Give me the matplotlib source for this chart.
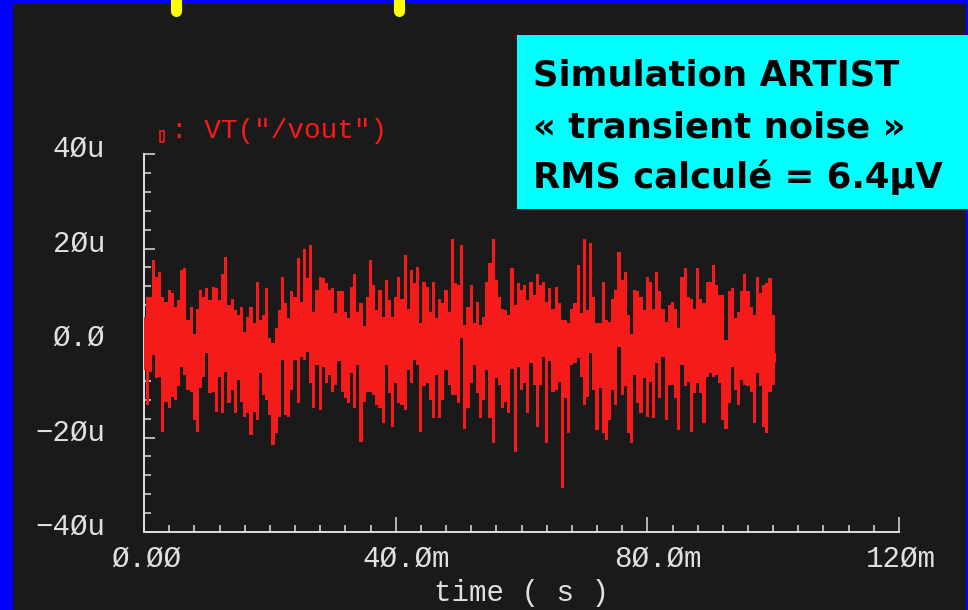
import numpy as np
import matplotlib
matplotlib.use("Agg")
import matplotlib.pyplot as plt
from matplotlib.ticker import MultipleLocator
from matplotlib.transforms import ScaledTranslation
from matplotlib.patches import Rectangle
from matplotlib.lines import Line2D

# transient noise on /vout, read off the plot as upper / lower envelope (uV)
# one sample every 0.5 ms from 0 to 100.5 ms
SAMPLE_MS = 0.5

vout_hi = [
    5.5, 9.8, 9.8, 17.6, 14.0, 15.1, 9.8, 8.7, 11.2, 10.5,
    7.7, 9.1, 15.4, 15.8, 4.9, 7.7, 2.0, 7.3, 11.2, 9.8,
    11.6, 9.1, 11.9, 11.6, 9.1, 14.7, 18.3, 8.0, 9.4, 7.0,
    5.9, 7.7, 2.4, 5.6, 7.7, 4.2, 13.0, 4.9, 5.9, 11.6,
    1.0, -0.1, 3.1, 7.0, 14.0, 8.4, 5.2, 10.9, 9.8, 17.9,
    8.7, 20.0, 13.7, 20.7, 6.6, 11.2, 14.0, 13.7, 12.6, 11.2,
    11.6, 6.3, 10.9, 10.9, 6.6, 5.2, 11.9, 14.7, 6.6, 8.4,
    3.5, 9.8, 17.6, 12.3, 7.0, 11.2, 5.6, 13.3, 9.1, 5.6, 9.8,
    14.0, 9.4, 18.6, 7.3, 15.4, 12.6, 16.1, 4.2, 13.0, 11.9,
    6.6, 13.0, 5.2, 9.4, 8.4, 11.2, 6.6, 22.1, 12.6, 12.3,
    20.7, 3.8, 7.7, 12.3, 4.2, 8.7, 3.8, 5.6, 13.0, 16.9,
    22.1, 13.3, 9.8, 7.3, 7.0, 5.9, 15.8, 8.0, 12.6, 11.2,
    12.3, 9.1, 13.0, 10.2, 14.7, 12.3, 13.0, 8.7, 11.6, 7.3,
    11.9, 8.4, 4.9, 4.9, 4.2, 7.3, 8.4, 16.5, 6.3, 22.1,
    7.0, 21.1, 9.8, 4.2, 4.2, 13.0, 4.9, 4.5, 9.4, 11.2,
    19.3, 13.3, 15.1, 5.9, 2.0, 11.2, 10.9, 9.8, 7.0, 14.0, 13.0,
    7.3, 15.1, 10.9, 7.3, 4.5, 8.0, 8.7, 7.3, 3.1, 14.0,
    15.8, 9.8, 9.4, 7.3, 15.8, 9.4, 8.4, 13.0, 13.0, 16.5,
    12.3, 10.2, 10.2, 0.6, 10.9, 11.6, 5.2, 6.6, 10.9, 14.7,
    10.9, 7.7, 5.9, 14.0, 10.5, 12.3, 12.6, 13.7, 5.9, -2.2,
]

vout_lo = [
    -5.7, -13.1, -6.1, -2.5, -7.5, -7.1, -18.8, -12.4, -13.8, -11.4,
    -12.1, -9.2, -5.0, -6.8, -9.9, -10.3, -16.3, -18.8, -9.6, -7.1,
    -2.2, -10.6, -10.3, -14.5, -7.1, -14.9, -6.1, -12.8, -9.9, -14.9,
    -7.8, -12.4, -15.6, -14.9, -19.5, -14.5, -16.3, -6.4, -11.0, -12.1,
    -15.2, -21.6, -19.1, -15.6, -3.6, -15.2, -15.6, -9.9, -3.6, -12.8,
    -2.9, -3.6, -1.8, -8.5, -13.8, -4.7, -14.2, -5.0, -8.5, -6.8,
    -10.3, -8.9, -3.9, -10.3, -11.7, -12.8, -6.4, -13.8, -4.7, -20.9,
    -12.4, -10.3, -10.3, -11.0, -13.1, -13.8, -17.0, -4.7, -10.6, -17.7, -8.5,
    -12.8, -13.1, -14.2, -5.7, -8.5, -3.6, -4.7, -18.8, -9.2, -8.5,
    -12.1, -15.9, -6.8, -15.9, -12.1, -5.7, -8.9, -11.0, -11.0, -12.8,
    1.0, -18.1, -13.8, -8.5, -4.7, -10.6, -15.9, -12.1, -5.7, -15.9,
    -21.2, -7.5, -8.9, -13.8, -12.4, -14.9, -5.4, -23.0, -5.0, -9.9,
    -8.5, -14.9, -4.3, -8.9, -17.7, -8.9, -2.9, -21.2, -3.9, -10.3,
    -9.9, -8.2, -30.7, -11.7, -19.1, -4.7, -4.3, -3.2, -7.1, -13.1,
    -11.4, -2.2, -9.9, -18.4, -9.6, -19.1, -20.5, -16.3, -9.9, -13.1,
    -0.8, -11.0, -9.2, -19.1, -21.2, -6.8, -12.8, -14.9, -7.5, -15.6, -8.2,
    -15.9, -4.3, -11.7, -2.9, -16.3, -8.9, -8.9, -11.7, -18.4, -4.7,
    -9.2, -8.2, -18.8, -10.6, -8.5, -10.6, -17.0, -7.1, -6.4, -7.1,
    -6.8, -8.5, -16.3, -18.1, -12.8, -5.0, -9.9, -13.1, -7.8, -8.9,
    -9.2, -10.3, -17.0, -6.4, -9.2, -17.7, -19.1, -10.3, -8.9, -4.3,
]

x_ticks = [0, 40, 80, 120]
x_labels = ["Ø.ØØ", "4Ø.Øm", "8Ø.Øm", "12Øm"]
y_ticks = [-40, -20, 0, 20, 40]
y_labels = ["−4Øu", "−2Øu", "Ø.Ø", "2Øu", "4Øu"]

BG = "#1a1a1a"
RED = "#f51b1b"
AXC = "#e0e0e0"
MONO = ["Liberation Mono", "DejaVu Sans Mono"]

t_ms = np.arange(len(vout_hi)) * SAMPLE_MS

W, H = 968, 610
fig = plt.figure(figsize=(W / 100, H / 100), dpi=100, facecolor=BG)
ax = fig.add_axes([144 / W, 1 - 532 / H, 755 / W, 378 / H])
ax.set_facecolor(BG)

ax.fill_between(t_ms, vout_lo, vout_hi, step="mid", color=RED, lw=0, zorder=3)

ax.set_xlim(0, 120)
ax.set_ylim(-40, 40)
for s in ["top", "right"]:
    ax.spines[s].set_visible(False)
for s in ["left", "bottom"]:
    ax.spines[s].set_color(AXC)
    ax.spines[s].set_linewidth(1.4)

ax.set_xticks(x_ticks, x_labels)
ax.set_yticks(y_ticks, y_labels)
ax.xaxis.set_minor_locator(MultipleLocator(4))
ax.yaxis.set_minor_locator(MultipleLocator(4))
ax.tick_params(axis="x", which="major", direction="in", length=11, width=1.1,
               colors=AXC, labelsize=21, pad=9)
ax.tick_params(axis="y", which="major", direction="in", length=8, width=1.1,
               colors=AXC, labelsize=21, pad=28)
ax.tick_params(which="minor", direction="in", length=5, width=1.1, colors=AXC)

for lab in ax.get_xticklabels():
    lab.set_family(MONO)
    lab.set_horizontalalignment("left")
    lab.set_transform(lab.get_transform() + ScaledTranslation(-0.33, 0, fig.dpi_scale_trans))
for lab in ax.get_yticklabels():
    lab.set_family(MONO)
    lab.set_transform(lab.get_transform() + ScaledTranslation(0, 0.08, fig.dpi_scale_trans))

ax.set_xlabel("time ( s )", family=MONO, fontsize=21, color=AXC, labelpad=5)

# trace legend
fig.patches.append(Rectangle((159.5 / W, 1 - 142 / H), 4 / W, 11 / H, fill=False,
                             edgecolor=RED, lw=1.2, transform=fig.transFigure))
fig.text(171 / W, 1 - 131 / H, ': VT("/vout")', family=MONO, fontsize=20,
         color=RED, va="center", ha="left")

# slide frame: blue border and yellow tabs
for r in [(0, 0, 13 / W, 1), (0, 1 - 4 / H, 1, 4 / H), (1 - 2 / W, 0, 2 / W, 1)]:
    fig.patches.append(Rectangle(r[:2], r[2], r[3], color="#0000ff", lw=0,
                                 transform=fig.transFigure, zorder=4))
for xp in [175.5, 398.5]:
    fig.lines.append(Line2D([xp / W, xp / W], [1.05, 1 - 10.5 / H], color="#ffff00",
                            lw=8, solid_capstyle="round", transform=fig.transFigure,
                            zorder=5))

# annotation box
fig.patches.append(Rectangle((517 / W, 1 - 209 / H), 0.6, 174 / H, color="#00ffff",
                             lw=0, transform=fig.transFigure, zorder=6))
box_lines = ["Simulation ARTIST", "« transient noise »", "RMS calculé = 6.4µV"]
for txt, yb in zip(box_lines, [85, 137, 188]):
    fig.text(533 / W, 1 - yb / H, txt, fontsize=25.5, fontweight="bold",
             family="DejaVu Sans", color="black", va="baseline", ha="left", zorder=7)

fig.savefig("out.png", dpi=100, facecolor=BG)
